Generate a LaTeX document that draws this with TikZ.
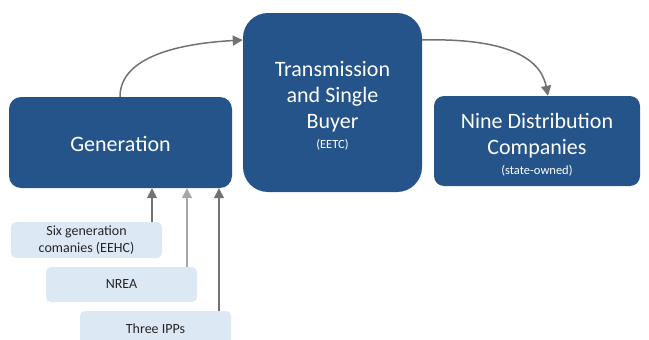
\documentclass[tikz,border=0pt]{standalone}
\usepackage{fontspec}
\setmainfont{Carlito}
\usetikzlibrary{arrows.meta}
\definecolor{darkb}{HTML}{24548A}
\definecolor{lightb}{HTML}{DDE8F5}
\definecolor{arrg}{HTML}{767171}
\definecolor{arrl}{HTML}{A6A6A6}
\tikzset{
  bigbox/.style={fill=darkb, inner sep=0pt},
  bigtext/.style={text=white, align=center, inner sep=0pt, font=\fontsize{22}{26}\selectfont},
  smallbox/.style={fill=lightb, text=black!85, align=center, inner sep=0pt, rounded corners=5pt, minimum width=151pt, font=\fontsize{14}{17}\selectfont},
  conn/.style={draw=arrg, line width=1.5pt, -{Triangle[width=10pt,length=10pt]}},
}
\begin{document}
\begin{tikzpicture}[x=1pt,y=-1pt]
\useasboundingbox (0,0) rectangle (649,340);
\clip (0,0) rectangle (649,340);
\node[bigbox, rounded corners=12pt, minimum width=223pt, minimum height=91pt,
  label={[bigtext, yshift=-1pt]center:Generation}] (gen) at (120.5,142.5) {};
\node[bigbox, rounded corners=25pt, minimum width=179pt, minimum height=179pt,
  label={[bigtext, yshift=-3pt]center:Transmission\\and Single\\Buyer\\[-6pt]{\fontsize{12.5}{14}\selectfont (EETC)}}] (trans) at (332.5,102.5) {};
\node[bigbox, rounded corners=10pt, minimum width=206pt, minimum height=90pt,
  label={[bigtext, yshift=-4pt]center:Nine Distribution\\Companies\\[-6pt]{\fontsize{12.5}{14}\selectfont (state-owned)}}] (dist) at (537,141) {};
\node[smallbox, minimum height=36pt] (six) at (86.5,240) {Six generation\\comanies (EEHC)};
\node[smallbox, minimum height=35pt] (nrea) at (121.5,284.5) {NREA};
\node[smallbox, minimum height=35pt] (ipp) at (155.5,328.5) {};
\node[font=\fontsize{14}{17}\selectfont, text=black!85] (ipptext) at (155.5,329) {Three IPPs};
\draw[conn] (six.north -| 152,0) -- (gen.south -| 152,0);
\draw[conn, draw=arrl] (nrea.north -| 187,0) -- (gen.south -| 187,0);
\draw[conn] (ipp.north -| 219,0) -- (gen.south -| 219,0);
\draw[conn] (gen.north -| 120,0) .. controls (120,60) and (170,44) .. (trans.west |- 0,40);
\draw[conn] (trans.east |- 0,40) .. controls (500,38) and (540,55) .. (dist.north -| 548,0);
\end{tikzpicture}
\end{document}
